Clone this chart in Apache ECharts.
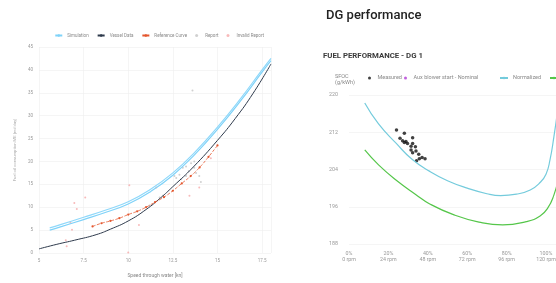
<!DOCTYPE html>
<html>
<head>
<meta charset="utf-8">
<title>Speed curve / DG performance</title>
<script src="https://cdn.jsdelivr.net/npm/echarts@6.0.0/dist/echarts.min.js"></script>
<style>
  html, body { margin: 0; padding: 0; background: #fff; overflow: hidden; width: 556px; height: 283px; }
  #speedChart { position: absolute; left: 0; top: 0; width: 280px; height: 283px; }
  #dgChart { position: absolute; left: 280px; top: 0; width: 360px; height: 283px; }
</style>
</head>
<body>
<div id="speedChart"></div>
<div id="dgChart"></div>
<script>
// ---- left chart: consumption vs speed ----
var simulation = [[5.6,5.0],[6.2,5.7],[7.5,7.3],[8.75,8.9],[10,10.7],[11.25,13.4],[12.5,17],[13.75,21.6],[15,27],[16.25,33],[17.5,39.5],[18,42]];
var simulationUpper = [[5.6,5.5],[6.2,6.2],[7.5,7.8],[8.75,9.4],[10,11.2],[11.25,13.9],[12.5,17.5],[13.75,22.1],[15,27.5],[16.25,33.5],[17.5,40.0],[18,42.5]];
var vesselData = [[5,0.9],[6,1.9],[7,2.8],[8.2,4.0],[9,5.2],[10,7.0],[11,9.5],[11.8,12.0],[12.5,14.5],[13.65,18.8],[15,24.6],[16,29.4],[17,34.9],[18,41.3]];
var referenceCurve = [[8,5.8],[8.5,6.5],[9,7.0],[9.5,7.6],[10,8.4],[10.5,9.1],[11,10.0],[11.5,11.1],[12,12.2],[12.5,13.6],[13,15.2],[13.5,16.8],[14,18.7],[14.5,21.0],[15,23.5]];
var reports = [[12.59,16.8],[12.69,16.4],[12.87,17.1],[13.06,18.6],[13.24,18.9],[13.52,19.6],[13.7,20.0],[13.7,18.6],[13.8,17.5],[13.98,16.8],[14.07,15.5],[11.76,12.1],[11.94,12.5],[12.96,16.1],[13.24,16.8],[13.39,17.9],[11.2,10.4],[13.6,35.5]];
var invalidReports = [[7.12,9.6],[6.85,5.1],[6.5,2.8],[6.55,1.5],[10.0,0.1],[6.98,10.9],[7.59,12.1],[6.76,6.6],[10.06,14.8],[11.57,14.3],[10.6,6.1],[13.43,12.5],[13.98,14.3],[14.63,20.7]];

// ---- right chart: DG fuel performance ----
var loadTicks = [0, 20, 40, 60, 80, 100, 120];
var rpmTicks = [0, 24, 48, 72, 96, 120, 144];
var measured = [[24.1,212.5],[28.1,211.8],[32.3,210.8],[25.9,210.7],[27.2,210.2],[28.9,210.0],[29.7,209.6],[32.3,209.6],[31.5,209.0],[33.7,208.9],[31.5,208.2],[34.0,208.0],[32.3,207.6],[35.4,207.3],[37.1,206.6],[38.6,206.3],[35.7,206.3],[34.3,205.9],[28.1,209.8]];
var auxBlower = [];
var normalized = [[8,218.3],[15,213.8],[24,209.6],[32,206.2],[41,203.6],[50,201.6],[60,200.0],[70,198.8],[77,198.4],[85,198.7],[92,199.6],[97,201.2],[100,203],[102,206],[104,211],[106,217]];
var baseline = [[8,208.2],[15,205],[24,201.7],[34,198.6],[41,196.6],[53,194.3],[66,192.7],[78,192.1],[90,192.8],[97,194],[101,195.8],[104,198.5],[106,201.5]];

var labelGrey = '#999';
var gridGrey = '#eeeeee';

var speedChart = echarts.init(document.getElementById('speedChart'));
var speedOption = {
  textStyle: { fontFamily: 'Roboto, sans-serif' },
  animation: false,
  legend: {
    right: 11,
    top: 28,
    itemWidth: 7,
    itemHeight: 3,
    itemGap: 8,
    textStyle: { fontSize: 4.5, color: '#888' },
    data: ['Simulation', 'Vessel Data', 'Reference Curve', 'Report', 'Invalid Report']
  },
  grid: { left: 39, right: 9, top: 47, bottom: 24 },
  xAxis: {
    type: 'value',
    min: 5,
    max: 18,
    interval: 2.5,
    name: 'Speed through water [kn]',
    nameLocation: 'middle',
    nameGap: 20,
    nameTextStyle: { fontSize: 5, color: '#888' },
    axisLine: { show: false },
    axisTick: { show: false },
    axisLabel: { fontSize: 4.5, color: labelGrey, margin: 5, showMaxLabel: false },
    splitLine: { lineStyle: { color: gridGrey, width: 0.6 } }
  },
  yAxis: {
    type: 'value',
    min: 0,
    max: 45,
    interval: 5,
    name: 'Fuel oil consumption ME [mt/day]',
    nameLocation: 'middle',
    nameGap: 16,
    nameTextStyle: { fontSize: 4.2, color: '#aaa' },
    axisLine: { show: false },
    axisTick: { show: false },
    axisLabel: { fontSize: 4.5, color: labelGrey, margin: 6 },
    splitLine: { lineStyle: { color: gridGrey, width: 0.6 } }
  },
  series: [
    {
      name: 'Simulation', type: 'line', data: simulation, smooth: true, symbol: 'none',
      lineStyle: { color: '#7fd2f8', width: 1.2 }, itemStyle: { color: '#7fd2f8' }
    },
    {
      name: 'Simulation', type: 'line', data: simulationUpper, smooth: true, symbol: 'none',
      lineStyle: { color: '#8fd8fa', width: 1.2 }, itemStyle: { color: '#7fd2f8' }
    },
    {
      name: 'Vessel Data', type: 'line', data: vesselData, smooth: true, symbol: 'none',
      lineStyle: { color: '#2e3a4c', width: 1 }, itemStyle: { color: '#2e3a4c' }
    },
    {
      name: 'Reference Curve', type: 'line', data: referenceCurve, smooth: true,
      symbol: 'circle', symbolSize: 2.2,
      lineStyle: { color: '#e4572e', width: 0.8, type: 'dashed' }, itemStyle: { color: '#e4572e' }
    },
    {
      name: 'Report', type: 'scatter', data: reports, symbolSize: 2,
      itemStyle: { color: '#c4c4c4' }
    },
    {
      name: 'Invalid Report', type: 'scatter', data: invalidReports, symbolSize: 2,
      itemStyle: { color: '#f6a9a9' }
    }
  ]
};
speedChart.setOption(speedOption);

var dgChart = echarts.init(document.getElementById('dgChart'));
var dgOption = {
  textStyle: { fontFamily: 'Roboto, sans-serif' },
  animation: false,
  title: [
    { text: 'DG performance', left: 41, top: 4, textStyle: { fontSize: 13, fontWeight: 500, color: '#222' } },
    { text: 'FUEL PERFORMANCE - DG 1', left: 38, top: 47, textStyle: { fontSize: 7.8, fontWeight: 'bold', color: '#3a3a3a' } },
    { text: 'SFOC\n(g/kWh)', left: 50, top: 69, textStyle: { fontSize: 5.5, lineHeight: 6, fontWeight: 'normal', color: '#888' } }
  ],
  legend: [
    { left: 83, top: 70, itemWidth: 6, itemHeight: 3, data: [{ name: 'Measured', icon: 'circle' }], textStyle: { fontSize: 5.5, color: '#888' } },
    { left: 119, top: 70, itemWidth: 6, itemHeight: 3, data: [{ name: 'Aux blower start - Nominal', icon: 'circle' }], textStyle: { fontSize: 5.5, color: '#888' } },
    { left: 214, top: 70, itemWidth: 8, itemHeight: 3, data: ['Normalized'], textStyle: { fontSize: 5.5, color: '#888' } },
    { left: 264, top: 70, itemWidth: 8, itemHeight: 3, data: ['Baseline'], textStyle: { fontSize: 5.5, color: '#888' } }
  ],
  grid: { left: 69, top: 95, width: 236.4, height: 149 },
  xAxis: {
    type: 'value',
    min: 0,
    max: 120,
    interval: 20,
    axisLine: { show: false },
    axisTick: { show: false },
    splitLine: { show: false },
    axisLabel: {
      fontSize: 5.3,
      lineHeight: 6.5,
      color: labelGrey,
      margin: 6,
      formatter: function (v) {
        var i = loadTicks.indexOf(v);
        return v + '%\n' + rpmTicks[i] + ' rpm';
      }
    }
  },
  yAxis: {
    type: 'value',
    min: 188,
    max: 220,
    interval: 8,
    axisLine: { show: false },
    axisTick: { show: false },
    axisLabel: { fontSize: 5.3, color: labelGrey, margin: 11 },
    splitLine: { lineStyle: { color: gridGrey, width: 0.6 } }
  },
  series: [
    {
      name: 'Measured', type: 'scatter', data: measured, symbolSize: 3.5,
      itemStyle: { color: '#111' }
    },
    {
      name: 'Aux blower start - Nominal', type: 'scatter', data: auxBlower, symbolSize: 3.5,
      itemStyle: { color: '#b23ad6' }
    },
    {
      name: 'Normalized', type: 'line', data: normalized, smooth: true, symbol: 'none',
      lineStyle: { color: '#74cbdc', width: 1.2 }, itemStyle: { color: '#74cbdc' }
    },
    {
      name: 'Baseline', type: 'line', data: baseline, smooth: true, symbol: 'none',
      lineStyle: { color: '#55c64a', width: 1.2 }, itemStyle: { color: '#55c64a' }
    }
  ]
};
dgChart.setOption(dgOption);
</script>
</body>
</html>
